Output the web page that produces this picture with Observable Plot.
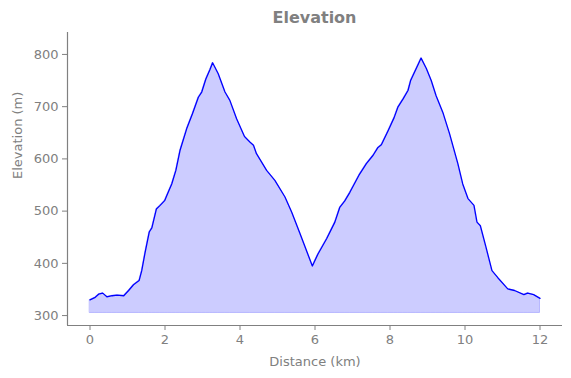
<!DOCTYPE html>
<html>
<head>
<meta charset="utf-8">
<script src="https://cdn.jsdelivr.net/npm/d3@7"></script>
<script src="https://cdn.jsdelivr.net/npm/@observablehq/plot@0.6"></script>
<style>
  html, body { margin: 0; padding: 0; background: #fff; }
  #wrap { position: relative; width: 571px; height: 378px; font-family: "DejaVu Sans", sans-serif; }
  #title { position: absolute; left: 67px; width: 495px; top: 8px; text-align: center;
           font-size: 16px; font-weight: bold; color: #808080; line-height: 20px; }
</style>
</head>
<body>
<div id="wrap"><div id="title">Elevation</div></div>
<script>
const distanceKm = [0, 0.14, 0.23, 0.34, 0.45, 0.59, 0.72, 0.9, 1.03, 1.16, 1.31, 1.38, 1.47, 1.58, 1.65, 1.77, 1.87, 1.99, 2.08, 2.18, 2.29, 2.40, 2.58, 2.73, 2.89, 2.98, 3.09, 3.20, 3.27, 3.42, 3.60, 3.73, 3.91, 4.12, 4.27, 4.36, 4.44, 4.71, 4.93, 5.20, 5.38, 5.60, 5.77, 5.93, 6.08, 6.31, 6.53, 6.66, 6.79, 6.93, 7.19, 7.37, 7.55, 7.68, 7.77, 7.95, 8.11, 8.21, 8.35, 8.48, 8.55, 8.70, 8.83, 8.97, 9.10, 9.23, 9.41, 9.59, 9.81, 9.94, 10.08, 10.24, 10.32, 10.41, 10.56, 10.72, 10.87, 11.14, 11.32, 11.57, 11.67, 11.83, 12.0];
const elevationM = [330, 335, 341, 343, 336, 338, 339, 338, 348, 359, 367, 386, 421, 460, 468, 504, 511, 520, 535, 552, 578, 616, 658, 686, 718, 728, 753, 771, 784, 763, 728, 712, 677, 643, 632, 626, 610, 578, 559, 527, 498, 457, 425, 395, 418, 447, 479, 507, 519, 536, 571, 591, 607, 622, 627, 654, 679, 699, 715, 731, 750, 773, 793, 773, 750, 721, 689, 648, 591, 552, 524, 511, 479, 472, 431, 386, 373, 351, 348, 340, 343, 340, 333];
const baseElevation = 305;
const xTicks = [0, 2, 4, 6, 8, 10, 12];
const yTicks = [300, 400, 500, 600, 700, 800];
const xLabel = "Distance (km)";
const yLabel = "Elevation (m)";

const data = distanceKm.map((d, i) => ({d, e: elevationM[i]}));
const gray = "#808080";

const chart = Plot.plot({
  width: 571,
  height: 378,
  marginLeft: 67,
  marginRight: 9,
  marginTop: 32,
  marginBottom: 53,
  style: {fontFamily: "DejaVu Sans, sans-serif", background: "#fff"},
  x: {domain: [-0.6, 12.6]},
  y: {domain: [281, 842]},
  marks: [
    Plot.areaY(data, {x: "d", y1: baseElevation, y2: "e", fill: "#0000ff", fillOpacity: 0.2, stroke: "#0000ff", strokeOpacity: 0.2, strokeWidth: 1}),
    Plot.lineY(data, {x: "d", y: "e", stroke: "#0000ff", strokeWidth: 1.3}),
    Plot.ruleX([-0.6], {stroke: gray, strokeWidth: 1.2}),
    Plot.ruleY([281], {stroke: gray, strokeWidth: 1.2}),
    Plot.axisX({ticks: xTicks, tickSize: 5, tickPadding: 4, fontSize: 13, color: gray, stroke: gray, label: null}),
    Plot.axisY({ticks: yTicks, tickSize: 5, tickPadding: 4, fontSize: 13, color: gray, stroke: gray, label: null}),
    Plot.text([xLabel], {frameAnchor: "bottom", dy: 36, text: d => d, fontSize: 13, fill: gray, lineAnchor: "middle"}),
    Plot.text([yLabel], {frameAnchor: "left", dx: -50, text: d => d, fontSize: 13, fill: gray, rotate: -90, lineAnchor: "middle"})
  ]
});
document.getElementById("wrap").appendChild(chart);
</script>
</body>
</html>
